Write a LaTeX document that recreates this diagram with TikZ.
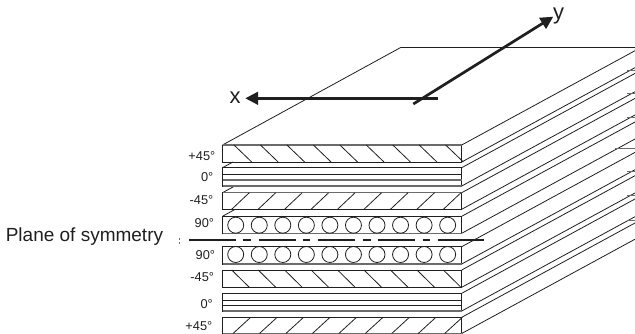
\documentclass[tikz,border=0pt]{standalone}
\usepackage{fontspec}
\setmainfont{Liberation Sans}
\usetikzlibrary{arrows.meta}
\definecolor{edgegray}{gray}{0.42}
\definecolor{ink}{gray}{0.12}
\tikzset{
  ply/.style={draw=ink,line width=0.85pt},
  thin edge/.style={draw=ink,line width=0.8pt},
  gray edge/.style={draw=edgegray,line width=1.2pt},
  axis/.style={draw=ink,line width=2.7pt,-{Triangle[length=12.7pt,width=12.5pt]}},
  midplane/.style={draw=ink,line width=1.7pt},
  angle label/.style={font=\fontsize{12.8pt}{14pt}\selectfont,text=ink,inner sep=0pt,anchor=east},
  big label/.style={font=\fontsize{19pt}{22pt}\selectfont,text=ink,inner sep=0pt,anchor=base west},
  axis label/.style={font=\fontsize{22pt}{24pt}\selectfont,text=ink,inner sep=0pt,anchor=base west}
}
\begin{document}
\begin{tikzpicture}[x=1pt,y=-1pt]
\useasboundingbox (0,0) rectangle (635,334);
\begin{scope}
\clip (0,0) rectangle (635,334);
% top face
\draw[thin edge,line join=round] (222.5,145) -- (400.7,47.5) -- (640,47.5);
% receding edges
\foreach \yy in {145,162,167.7,186,192.7,209.3,216.3,233.3,246.7,264,270,287.3,293.3,311,317.3,333.5}
  \draw[thin edge] (461.7,\yy) -- ++(173.3,-94.3);
% stubs of the back edges
\foreach \xs/\yy in {627/70.7,627/93.3,627/117,615/148.7,627/171.7,627/195.7,627/220}
  \draw[gray edge,line width=0.9pt] (\xs,\yy) -- (635,\yy);
% hidden-side segments
\draw[thin edge] (222.5,167.7) -- (233,162);
\draw[thin edge] (222.5,192.7) -- (234.8,186);
\draw[thin edge] (222.5,216.3) -- (234.8,209.5);
% plies
\foreach \a/\b in {145/162,167.7/186,192.7/209.3,216.3/233.3,246.7/264,270/287.3,293.3/311,317.3/333.5}
  \draw[ply] (222.5,\a) rectangle (461.7,\b);
% gray edges
\foreach \yy in {145,192.7,180,186,233.3,264,311,333.5}
  \draw[gray edge] (222.5,\yy) -- (461.7,\yy);
% 0 degree lines
\draw[thin edge] (222.5,174.3) -- (461.7,174.3);
\draw[thin edge] (222.5,300) -- (461.7,300);
\draw[thin edge] (222.5,305.7) -- (461.7,305.7);
% hatching
\foreach \k in {0,...,8}{
  \pgfmathsetmacro{\sx}{26.46*\k}
  \draw[thin edge] (234+\sx,145) -- (251.7+\sx,162);
  \draw[thin edge] (249.3+\sx,192.7) -- (231.7+\sx,209.3);
  \draw[thin edge] (231.7+\sx,270) -- (249.3+\sx,287.3);
  \draw[thin edge] (250.7+\sx,317.3) -- (233+\sx,333.5);
}
% fibres
\foreach \k in {0,...,9}{
  \pgfmathsetmacro{\cx}{235.7+23.55*\k}
  \draw[thin edge] (\cx,225.2) circle (8);
  \draw[thin edge] (\cx,254.5) circle (8);
}
% plane of symmetry
\foreach \a/\b in {189/236,243/251,259/296,303/310,318/355,363/371,378/415,423/430,438/484}
  \draw[midplane] (\a,239.7) -- (\b,239.7);
\draw[edgegray,line width=0.8pt] (179.8,237.5) -- (179.8,239.5) (179.8,241.5) -- (179.8,243.5);
% axes
\coordinate (xstart) at (437.7,98.3);
\coordinate (xtip) at (245.3,98.3);
\coordinate (ystart) at (413.3,104);
\coordinate (ytip) at (553.3,16.7);
\draw[axis] (xstart) -- (xtip);
\draw[axis] (ystart) -- (ytip);
\end{scope}
\node[axis label] (xlabel) at (229.5,104) {x};
\node[axis label] (ylabel) at (553,20) {y};
\node[big label] (plane) at (5.6,241) {Plane of symmetry};
\node[angle label] (a1) at (215.5,156) {+45°};
\node[angle label] (a2) at (213.5,176.7) {0°};
\node[angle label] (a3) at (213.5,200) {-45°};
\node[angle label] (a4) at (214.3,222.7) {90°};
\node[angle label] (a5) at (215.3,255) {90°};
\node[angle label] (a6) at (214.3,276.7) {-45°};
\node[angle label] (a7) at (213,304) {0°};
\node[angle label] (a8) at (212.5,325.7) {+45°};
\end{tikzpicture}
\end{document}
